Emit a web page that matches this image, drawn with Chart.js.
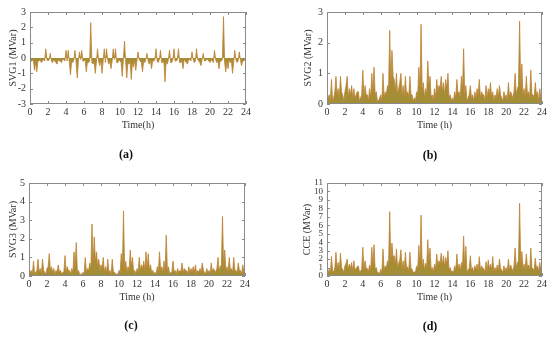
<!DOCTYPE html>
<html>
<head>
<meta charset="utf-8">
<script src="https://cdn.jsdelivr.net/npm/chart.js@4"></script>
<style>
  body { margin: 0; background: #fff; }
  #wrap { position: relative; width: 550px; height: 338px; overflow: hidden; }
  canvas { position: absolute; left: 0; top: 0; }
  .cap { position: absolute; font: bold 12px "Liberation Serif", serif; color: #111; transform: translate(-50%, -50%); }
</style>
</head>
<body>
<div id="wrap">
  <canvas id="ca" width="550" height="338"></canvas>
  <canvas id="cb" width="550" height="338"></canvas>
  <canvas id="cc" width="550" height="338"></canvas>
  <canvas id="cd" width="550" height="338"></canvas>
  <div class="cap" style="left:126px;top:154px">(a)</div>
  <div class="cap" style="left:430px;top:155px">(b)</div>
  <div class="cap" style="left:131px;top:325px">(c)</div>
  <div class="cap" style="left:430px;top:326px">(d)</div>
</div>
<script>
// time axis: 7.5 min steps over one day (193 samples)
const hours = [];
for (let i = 0; i <= 192; i++) hours.push(i / 8);

const svg1 = [
  -0.1, -0.2, -0.2, -0.1, -0.8, -0.3, -0.9, -0.2,
  -0.2, -0.1, -0.3, -0.2, -0.1, -0.2, 0.6, -0.1,
  -0.2, -0.1, 0.3, -0.2, -0.3, -0.1, -0.2, -0.3,
  -0.4, -0.1, -0.2, -0.2, -0.3, -0.1, -0.1, -0.2,
  0.5, -0.2, 0.5, -0.3, -1.1, -0.2, -0.3, -0.1,
  0.5, -0.3, -1.3, -0.2, 0.4, -0.1, 0.5, -0.2,
  -0.2, -0.1, -0.9, -0.3, -0.3, -0.2, 2.3, -0.3,
  -0.4, -0.2, -1.0, -0.3, 0.6, -0.2, -0.5, -0.1,
  -1.0, -0.2, 0.6, -0.3, 0.6, -0.1, -0.4, -0.2,
  -0.7, -0.2, 0.6, -0.1, 0.6, -0.3, -0.3, -0.1,
  -0.2, -0.3, -1.2, -0.1, 1.1, -0.2, -1.3, -0.3,
  -0.4, -0.2, -1.4, -0.3, -0.6, -0.1, -0.8, -0.2,
  0.4, -0.1, -0.2, -0.3, -0.9, -0.2, -0.3, -0.1,
  0.3, -0.2, -0.4, -0.1, -0.7, -0.2, -0.2, -0.1,
  0.6, -0.2, -0.3, -0.1, 0.5, -0.3, -0.3, -0.2,
  -1.55, -0.2, -0.4, -0.1, 0.5, -0.3, -0.3, -0.1,
  0.6, -0.2, -0.2, -0.1, 0.6, -0.3, -0.3, -0.2,
  -0.7, -0.1, -0.2, -0.3, -0.4, -0.1, -0.1, -0.2,
  0.4, -0.1, -0.3, -0.2, 0.6, -0.1, -0.2, -0.3,
  -0.5, -0.1, 0.3, -0.2, -0.2, -0.1, -0.1, -0.2,
  -0.3, -0.1, -0.2, -0.3, 0.5, -0.1, -0.3, -0.2,
  -0.7, -0.2, -0.2, -0.1, 2.7, -0.3, -0.9, -0.2,
  -0.7, -0.1, -0.3, -0.2, -1.0, -0.3, 0.5, -0.1,
  -0.3, -0.2, 0.4, -0.1, -0.5, -0.2, -0.2, -0.1,
  -0.3];

const svg2 = [
  0.1, 0.2, 0.3, 0.1, 0.8, 0.1, 0.2, 0.4,
  0.9, 0.3, 0.5, 0.2, 0.9, 0.4, 0.3, 0.1,
  0.4, 0.6, 0.9, 0.2, 0.5, 0.3, 0.6, 0.2,
  0.5, 0.2, 0.3, 0.4, 0.4, 0.1, 0.2, 0.3,
  1.1, 0.2, 0.6, 0.3, 0.3, 0.1, 0.5, 0.2,
  1.0, 0.4, 1.2, 0.3, 0.4, 0.1, 0.1, 0.2,
  0.3, 0.1, 1.0, 0.2, 0.4, 0.3, 0.6, 0.5,
  2.4, 0.6, 1.75, 0.9, 0.8, 0.4, 1.0, 0.3,
  0.5, 0.7, 1.0, 0.3, 0.6, 0.2, 0.9, 0.3,
  0.4, 0.2, 0.9, 0.3, 0.3, 0.1, 0.2, 0.1,
  0.4, 0.3, 1.2, 0.5, 2.6, 0.4, 0.7, 0.2,
  0.5, 0.3, 1.4, 0.6, 0.9, 0.2, 0.3, 0.1,
  0.5, 0.2, 0.8, 0.4, 0.6, 0.5, 0.9, 0.4,
  0.7, 0.3, 0.8, 0.5, 1.0, 0.2, 0.3, 0.1,
  0.2, 0.1, 0.4, 0.2, 0.8, 0.3, 0.4, 0.2,
  0.9, 0.4, 1.8, 0.3, 0.6, 0.1, 0.2, 0.3,
  0.6, 0.2, 0.3, 0.1, 0.4, 0.2, 0.5, 0.3,
  0.8, 0.2, 0.4, 0.3, 0.3, 0.1, 0.6, 0.2,
  0.5, 0.3, 0.7, 0.2, 0.4, 0.1, 0.3, 0.2,
  0.5, 0.2, 0.6, 0.3, 0.2, 0.1, 0.4, 0.2,
  0.3, 0.1, 0.7, 0.2, 0.4, 0.3, 0.2, 0.4,
  1.0, 0.3, 0.5, 0.6, 2.7, 0.5, 1.3, 0.3,
  0.5, 0.2, 0.9, 0.3, 0.4, 0.2, 1.1, 0.3,
  0.3, 0.2, 0.7, 0.3, 0.4, 0.1, 0.5, 0.2,
  0.3];

const svg3 = [
  0.1, 0.2, 0.3, 0.1, 0.8, 0.1, 0.2, 0.3,
  0.9, 0.2, 0.4, 0.1, 0.9, 0.3, 0.2, 0.1,
  0.4, 0.5, 1.2, 0.3, 0.5, 0.2, 0.4, 0.1,
  0.3, 0.2, 0.6, 0.2, 0.3, 0.1, 0.2, 0.2,
  1.1, 0.2, 0.5, 0.3, 0.3, 0.1, 0.4, 0.2,
  1.3, 0.5, 1.8, 0.2, 0.3, 0.1, 0.1, 0.1,
  0.2, 0.1, 1.0, 0.2, 0.4, 0.3, 0.7, 0.4,
  2.8, 0.7, 2.1, 0.8, 1.3, 0.5, 0.9, 0.3,
  0.6, 0.4, 1.0, 0.2, 0.5, 0.2, 0.9, 0.2,
  0.3, 0.1, 0.9, 0.2, 0.2, 0.1, 0.1, 0.1,
  0.3, 0.2, 1.2, 0.4, 3.5, 0.3, 0.8, 0.2,
  0.5, 0.3, 1.4, 0.5, 1.0, 0.2, 0.3, 0.1,
  0.4, 0.2, 1.0, 0.3, 0.6, 0.4, 0.8, 0.3,
  1.3, 0.4, 1.2, 0.3, 0.6, 0.2, 0.3, 0.1,
  0.2, 0.1, 0.5, 0.2, 1.3, 0.3, 0.5, 0.2,
  0.8, 0.3, 2.2, 0.3, 0.5, 0.1, 0.2, 0.2,
  0.8, 0.2, 0.3, 0.1, 0.4, 0.2, 0.3, 0.2,
  0.7, 0.2, 0.4, 0.3, 0.3, 0.1, 0.5, 0.2,
  0.4, 0.2, 0.5, 0.2, 0.6, 0.1, 0.3, 0.2,
  0.4, 0.2, 0.7, 0.3, 0.2, 0.1, 0.4, 0.2,
  0.3, 0.1, 0.7, 0.2, 0.4, 0.3, 0.2, 0.4,
  1.0, 0.3, 0.5, 0.6, 3.2, 0.5, 1.4, 0.3,
  0.5, 0.2, 1.0, 0.3, 0.4, 0.2, 1.0, 0.3,
  0.3, 0.2, 0.7, 0.3, 0.3, 0.1, 0.6, 0.2,
  0.3];

const cce = [
  0.3, 0.5, 0.8, 0.4, 2.3, 0.6, 0.5, 1.0,
  2.8, 0.9, 1.6, 0.7, 2.7, 1.0, 0.8, 0.4,
  1.2, 1.5, 2.0, 0.8, 1.4, 0.9, 1.6, 0.6,
  1.8, 0.7, 0.9, 1.1, 1.2, 0.5, 0.6, 0.8,
  3.4, 0.7, 1.8, 0.9, 0.9, 0.5, 1.3, 0.7,
  3.4, 1.2, 3.7, 0.8, 1.0, 0.4, 0.4, 0.3,
  0.8, 0.4, 3.2, 0.7, 1.2, 0.9, 1.8, 1.4,
  7.6, 1.8, 3.9, 2.2, 2.4, 1.3, 3.2, 1.0,
  1.5, 1.9, 3.1, 0.8, 1.8, 0.7, 2.8, 0.9,
  1.1, 0.6, 2.8, 0.9, 0.8, 0.4, 0.5, 0.4,
  1.2, 0.8, 3.6, 1.3, 7.2, 1.0, 2.0, 0.7,
  1.5, 1.1, 4.3, 1.6, 3.3, 0.8, 1.0, 0.5,
  1.4, 0.8, 2.6, 1.2, 1.8, 1.5, 2.7, 1.2,
  2.4, 1.1, 2.2, 1.4, 3.0, 0.7, 1.0, 0.5,
  0.6, 0.4, 1.2, 0.7, 2.6, 0.9, 1.4, 0.6,
  1.6, 1.0, 4.7, 1.1, 3.5, 0.5, 0.7, 0.9,
  2.4, 0.7, 1.0, 0.5, 1.2, 0.8, 1.4, 0.6,
  2.3, 0.7, 1.2, 0.9, 0.9, 0.4, 1.7, 0.6,
  1.9, 0.8, 1.4, 0.7, 2.3, 0.5, 1.0, 0.6,
  1.3, 0.6, 2.0, 0.9, 0.7, 0.4, 1.2, 0.6,
  1.0, 0.5, 2.0, 0.7, 1.3, 0.9, 0.6, 1.2,
  3.3, 1.0, 1.5, 1.8, 8.6, 1.4, 2.9, 0.9,
  1.4, 0.7, 2.6, 1.0, 1.3, 0.6, 3.3, 0.9,
  0.9, 0.6, 2.1, 0.9, 1.2, 0.5, 1.6, 0.7,
  0.8];

const xTicks = [0, 2, 4, 6, 8, 10, 12, 14, 16, 18, 20, 22, 24];

const serif = '"Liberation Serif", "Times New Roman", serif';

// box with inward tick marks, MATLAB style
const boxPlugin = {
  id: 'box',
  afterDraw(chart) {
    const { ctx, chartArea: a, scales } = chart;
    ctx.save();
    ctx.strokeStyle = '#8a8a8a';
    ctx.lineWidth = 1;
    ctx.strokeRect(a.left + 0.5, a.top + 0.5, a.right - a.left - 1, a.bottom - a.top - 1);
    ctx.beginPath();
    scales.x.ticks.forEach(t => {
      const x = Math.round(scales.x.getPixelForValue(t.value)) + 0.5;
      ctx.moveTo(x, a.bottom); ctx.lineTo(x, a.bottom - 3);
      ctx.moveTo(x, a.top); ctx.lineTo(x, a.top + 3);
    });
    scales.y.ticks.forEach(t => {
      const y = Math.round(scales.y.getPixelForValue(t.value)) + 0.5;
      ctx.moveTo(a.left, y); ctx.lineTo(a.left + 3, y);
      ctx.moveTo(a.right, y); ctx.lineTo(a.right - 3, y);
    });
    ctx.stroke();
    ctx.restore();
  }
};

function makeChart(id, values, yLabel, xLabel, yMin, yMax, area, yTitleX, xTitleY, yFont) {
  const padLeft = yTitleX - 6;
  const yWidth = area.l - padLeft;
  const xHeight = xTitleY + 6 - area.b;
  return new Chart(document.getElementById(id), {
    type: 'line',
    data: {
      labels: hours,
      datasets: [{
        data: values,
        borderColor: 'rgba(190,130,50,0.8)',
        backgroundColor: 'rgba(158,136,42,0.95)',
        borderWidth: 1,
        pointRadius: 0,
        tension: 0,
        fill: 'origin'
      }]
    },
    options: {
      responsive: false,
      animation: false,
      plugins: { legend: { display: false }, tooltip: { enabled: false } },
      layout: { padding: { left: padLeft, top: area.t, right: 550 - area.r, bottom: 338 - (xTitleY + 6) } },
      scales: {
        x: {
          type: 'linear', min: 0, max: 24,
          afterBuildTicks: s => { s.ticks = xTicks.map(v => ({ value: v })); },
          afterFit: s => { s.height = xHeight; },
          grid: { display: false, drawTicks: false },
          border: { display: false },
          ticks: { padding: 2, maxRotation: 0, autoSkip: false, color: '#333', font: { family: serif, size: 10 } },
          title: { display: true, text: xLabel, padding: 0, color: '#333', font: { family: serif, size: 10 } }
        },
        y: {
          min: yMin, max: yMax,
          ticks: { stepSize: 1, autoSkip: false, padding: 4, color: '#333', font: { family: serif, size: yFont } },
          afterFit: s => { s.width = yWidth; },
          grid: { display: false, drawTicks: false },
          border: { display: false },
          title: { display: true, text: yLabel, padding: 0, color: '#333', font: { family: serif, size: 10 } }
        }
      }
    },
    plugins: [boxPlugin]
  });
}

makeChart('ca', svg1, 'SVG1 (MVar)', 'Time(h)', -3, 3, { l: 30, r: 246, t: 12, b: 104 }, 13, 125, 10);
makeChart('cb', svg2, 'SVG2 (MVar)', 'Time (h)', 0, 3, { l: 327, r: 542, t: 12, b: 104 }, 308, 125, 10);
makeChart('cc', svg3, 'SVG3 (MVar)', 'Time (h)', 0, 5, { l: 29, r: 245, t: 183, b: 276 }, 13, 297, 10);
makeChart('cd', cce, 'CCE (MVar)', 'Time (h)', 0, 11, { l: 327, r: 542, t: 183, b: 276 }, 307, 297, 9);
</script>
</body>
</html>
